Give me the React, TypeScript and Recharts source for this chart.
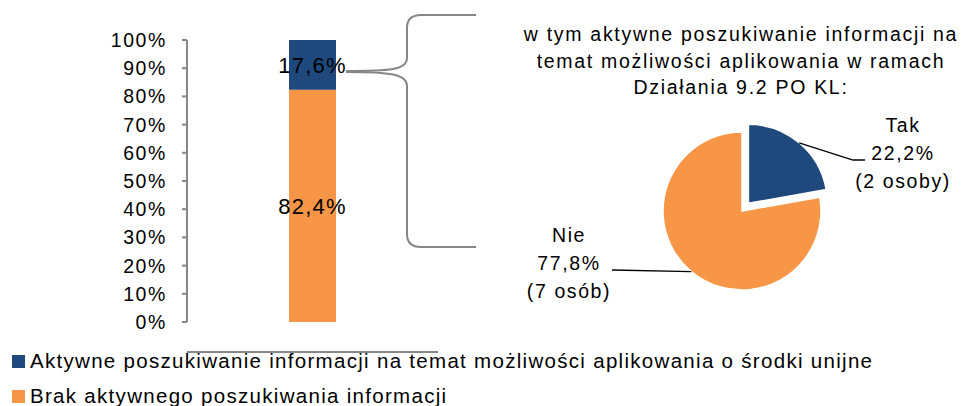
import React from 'react';
import { BarChart, Bar, XAxis, YAxis, LabelList, Legend, PieChart, Pie, Cell } from 'recharts';

const categories = [''];
const aktywne = [17.6];
const brak = [82.4];
const yTicks = [0, 10, 20, 30, 40, 50, 60, 70, 80, 90, 100];
const seriesNames = [
  'Aktywne poszukiwanie informacji na temat możliwości aplikowania o środki unijne',
  'Brak aktywnego poszukiwania informacji',
];
const pieNames = ['Tak', 'Nie'];
const pieValues = [22.2, 77.8];
const pieCounts = ['(2 osoby)', '(7 osób)'];
const pieTitle = [
  'w tym aktywne poszukiwanie informacji na',
  'temat możliwości aplikowania w ramach',
  'Działania 9.2 PO KL:',
];

const BLUE = '#1F497D';
const ORANGE = '#F79646';
const AXIS = '#878787';
const FONT = '"Liberation Sans", Arial, sans-serif';

const barData = categories.map((name, i) => ({ name, aktywne: aktywne[i], brak: brak[i] }));
const pieData = pieNames.map((name, i) => ({ name, value: pieValues[i], count: pieCounts[i] }));

const fmt = (v: number) => v.toFixed(1).replace('.', ',') + '%';

// pie geometry
const PIE_CX = 742;
const PIE_CY = 211;
const PIE_R = 79;
const EXPLODE = 10;
const takMid = (90 - (pieValues[0] / 100) * 180) * (Math.PI / 180);

// where each pie label sits (leader line bend / end, text centre and first baseline)
const pieLabelLayout = [
  { points: [[853, 160], [865, 160]], x: 903, y: 132 },
  { points: [[612, 270]], x: 569, y: 242 },
];

const renderPieLabel = (visible: number) => (props: any) => {
  const { cx, cy, midAngle, outerRadius, index } = props;
  if (index !== visible) return null;
  const rad = (midAngle * Math.PI) / 180;
  const sx = cx + outerRadius * Math.cos(rad);
  const sy = cy - outerRadius * Math.sin(rad);
  const lay = pieLabelLayout[index];
  const d = `M${sx},${sy}` + lay.points.map((p) => ` L${p[0]},${p[1]}`).join('');
  const d0 = pieData[index];
  return (
    <g>
      <path d={d} stroke="#000" strokeWidth={1.3} fill="none" />
      <text x={lay.x} y={lay.y} textAnchor="middle" fontSize={19.5} fill="#000" style={{ letterSpacing: 1.6 }}>
        <tspan x={lay.x} dy={0}>{d0.name}</tspan>
        <tspan x={lay.x} dy={28}>{fmt(d0.value)}</tspan>
        <tspan x={lay.x} dy={28}>{d0.count}</tspan>
      </text>
    </g>
  );
};

const renderLegend = (props: any) => {
  const payload = props.payload || [];
  const items = seriesNames
    .map((n) => payload.find((p: any) => p.value === n))
    .filter(Boolean);
  return (
    <div style={{ position: 'relative', width: 967, height: 60 }}>
      {items.map((it: any, i: number) => (
        <div key={i} style={{ position: 'absolute', left: 12, top: i * 35, height: 20, display: 'flex', alignItems: 'center' }}>
          <span style={{ width: 13, height: 13, background: it.color, marginRight: 5, display: 'inline-block' }} />
          <span style={{ fontSize: 20.5, letterSpacing: 1.3, lineHeight: '20px', color: '#000', whiteSpace: 'nowrap' }}>{it.value}</span>
        </div>
      ))}
    </div>
  );
};

export default function App() {
  return (
    <div style={{ position: 'absolute', left: 0, top: 0, width: 967, height: 406, background: '#fff', fontFamily: FONT, overflow: 'hidden' }}>
      <BarChart width={967} height={406} data={barData} margin={{ top: 40, right: 529, bottom: 79, left: 0 }}>
        <XAxis dataKey="name" hide />
        <XAxis
          xAxisId="frame"
          type="number"
          domain={[0, 1]}
          ticks={[0, 1]}
          tick={false}
          tickSize={5}
          height={5}
          stroke={AXIS}
          axisLine={{ stroke: AXIS, strokeWidth: 2 }}
          tickLine={{ stroke: AXIS, strokeWidth: 2 }}
        />
        <YAxis
          width={187}
          domain={[0, 100]}
          ticks={yTicks}
          interval={0}
          tickFormatter={(v: number) => `${v}%`}
          tickSize={5}
          tickMargin={15}
          axisLine={{ stroke: AXIS, strokeWidth: 2 }}
          tickLine={{ stroke: AXIS, strokeWidth: 2 }}
          tick={{ fill: '#000', fontSize: 19.5, style: { letterSpacing: 1.6 } }}
        />
        <Bar dataKey="brak" name={seriesNames[1]} stackId="s" fill={ORANGE} barSize={47} isAnimationActive={false}>
          <LabelList dataKey="brak" position="center" formatter={(v: any) => fmt(Number(v))} fill="#000" fontSize={22} style={{ letterSpacing: 1.2 }} />
        </Bar>
        <Bar dataKey="aktywne" name={seriesNames[0]} stackId="s" fill={BLUE} barSize={47} isAnimationActive={false}>
          <LabelList dataKey="aktywne" position="center" formatter={(v: any) => fmt(Number(v))} fill="#000" fontSize={22} style={{ letterSpacing: 1.2 }} />
        </Bar>
        <Legend
          content={renderLegend}
          layout="horizontal"
          verticalAlign="middle"
          align="center"
          wrapperStyle={{ left: 0, top: 351, width: 967, height: 60 }}
        />
      </BarChart>

      <svg width={967} height={406} style={{ position: 'absolute', left: 0, top: 0, pointerEvents: 'none' }}>
        <path d="M346,71 C390,71 407,70 407,58 L407,28 Q407,15 421,15 L476,15" stroke={AXIS} strokeWidth={2} fill="none" />
        <path d="M346,72 C390,72 407,74 407,86 L407,234 Q407,247 421,247 L476,247" stroke={AXIS} strokeWidth={2} fill="none" />
        <text x={741} y={41} textAnchor="middle" fontSize={19.5} fill="#000" style={{ letterSpacing: 1.7 }}>
          {pieTitle.map((t, i) => (
            <tspan key={i} x={741} dy={i === 0 ? 0 : 26.5}>{t}</tspan>
          ))}
        </text>
      </svg>

      <div style={{ position: 'absolute', left: 0, top: 0 }}>
        <PieChart width={967} height={406} margin={{ top: 0, right: 0, bottom: 0, left: 0 }}>
          <Pie
            data={pieData}
            dataKey="value"
            cx={PIE_CX}
            cy={PIE_CY}
            outerRadius={PIE_R}
            startAngle={90}
            endAngle={-270}
            isAnimationActive={false}
            labelLine={false}
            label={renderPieLabel(1)}
          >
            {pieData.map((d, i) => (
              <Cell key={d.name} fill={i === 1 ? ORANGE : 'none'} stroke={i === 1 ? '#fff' : 'none'} strokeWidth={1.5} />
            ))}
          </Pie>
          <Pie
            data={pieData}
            dataKey="value"
            cx={PIE_CX + EXPLODE * Math.cos(takMid)}
            cy={PIE_CY - EXPLODE * Math.sin(takMid)}
            outerRadius={PIE_R}
            startAngle={90}
            endAngle={-270}
            isAnimationActive={false}
            labelLine={false}
            label={renderPieLabel(0)}
          >
            {pieData.map((d, i) => (
              <Cell key={d.name} fill={i === 0 ? BLUE : 'none'} stroke={i === 0 ? '#fff' : 'none'} strokeWidth={1.5} />
            ))}
          </Pie>
        </PieChart>
      </div>
    </div>
  );
}
